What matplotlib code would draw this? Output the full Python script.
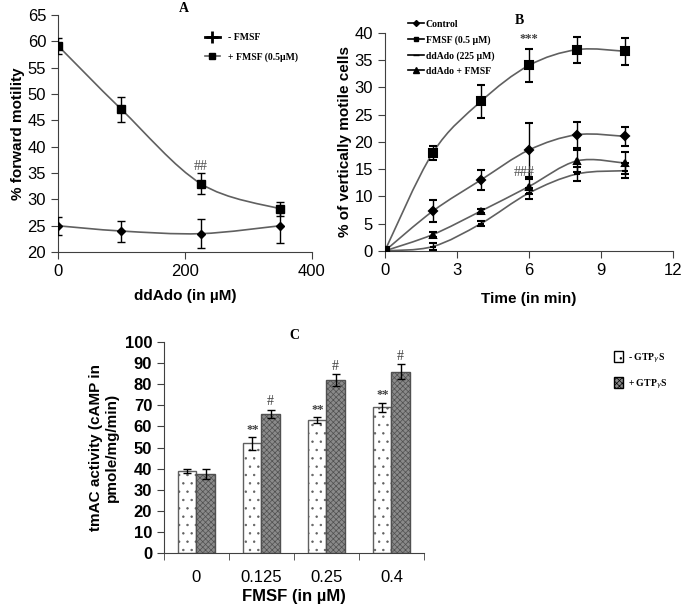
import numpy as np
import matplotlib
matplotlib.use("Agg")
import matplotlib.pyplot as plt
from matplotlib.path import Path
from matplotlib.patches import PathPatch, Patch
from matplotlib.lines import Line2D

# ---- data: panel A ----
dd_conc = [0, 100, 225, 350]
minus_fmsf = [25.0, 24.0, 23.5, 25.0]
minus_fmsf_err = [1.7, 2.0, 2.8, 3.3]
plus_fmsf = [59.2, 47.1, 33.0, 28.2]
plus_fmsf_err = [1.5, 2.4, 2.0, 1.3]

# ---- data: panel B ----
time_min = [0, 2, 4, 6, 8, 10]
control = [0.0, 7.3, 13.0, 18.5, 21.3, 21.0]
control_err = [0.0, 2.0, 1.8, 5.0, 2.4, 1.8]
fmsf_b = [0.0, 18.0, 27.4, 34.0, 36.9, 36.6]
fmsf_b_err = [0.0, 1.3, 3.0, 3.1, 2.4, 2.5]
ddado = [0.0, 0.8, 5.0, 10.6, 14.1, 14.7]
ddado_err = [0.0, 0.6, 0.5, 1.0, 1.2, 1.4]
ddado_fmsf = [0.0, 3.0, 7.3, 11.8, 16.5, 16.1]
ddado_fmsf_err = [0.0, 0.4, 0.4, 1.4, 2.0, 2.0]

# ---- data: panel C ----
fmsf_levels = ["0", "0.125", "0.25", "0.4"]
minus_gtp = [39.0, 52.0, 63.0, 69.0]
minus_gtp_err = [1.0, 3.0, 1.3, 2.3]
plus_gtp = [37.5, 66.0, 82.0, 86.0]
plus_gtp_err = [2.2, 2.0, 3.0, 3.5]
minus_marks = ["", "**", "**", "**"]
plus_marks = ["", "#", "#", "#"]

plt.rcParams['font.family'] = ['Liberation Sans', 'DejaVu Sans']
plt.rcParams['hatch.linewidth'] = 0.5
serif = ['Liberation Serif', 'DejaVu Serif']
narrow = ['Liberation Sans Narrow', 'Liberation Sans', 'DejaVu Sans']
line_col = '#606060'


def smooth(ax, x, y, color):
    # Excel-like smoothed line through the points (cubic bezier segments)
    x = np.asarray(x, float)
    y = np.asarray(y, float)
    px = np.concatenate([[x[0]], x, [x[-1]]])
    py = np.concatenate([[y[0]], y, [y[-1]]])
    verts = [(x[0], y[0])]
    codes = [Path.MOVETO]
    for i in range(1, len(px) - 2):
        c1 = (px[i] + (px[i + 1] - px[i - 1]) / 6, py[i] + (py[i + 1] - py[i - 1]) / 6)
        c2 = (px[i + 1] - (px[i + 2] - px[i]) / 6, py[i + 1] - (py[i + 2] - py[i]) / 6)
        verts += [c1, c2, (px[i + 1], py[i + 1])]
        codes += [Path.CURVE4] * 3
    ax.add_patch(PathPatch(Path(verts, codes), fill=False, edgecolor=color, lw=1.2, zorder=2))


def style_axes(ax):
    for s in ['top', 'right']:
        ax.spines[s].set_visible(False)
    for s in ['left', 'bottom']:
        ax.spines[s].set_color('#404040')
    ax.tick_params(direction='out', length=5, color='#404040')


fig = plt.figure(figsize=(6.86, 6.06), dpi=100)

# ---------------- panel A ----------------
axA = fig.add_axes([0.0845, 0.584, 0.370, 0.391])
smooth(axA, dd_conc, minus_fmsf, line_col)
smooth(axA, dd_conc, plus_fmsf, line_col)
axA.errorbar(dd_conc, minus_fmsf, yerr=minus_fmsf_err, fmt='D', ms=4, color='black',
             ecolor='black', elinewidth=1, capsize=3, zorder=3)
axA.errorbar(dd_conc, plus_fmsf, yerr=plus_fmsf_err, fmt='s', ms=6, color='black',
             ecolor='black', elinewidth=1, capsize=3, zorder=3)
axA.set_xlim(0, 400)
axA.set_ylim(20, 65)
axA.set_xticks([0, 200, 400])
axA.set_yticks(range(20, 66, 5))
axA.tick_params(labelsize=12)
style_axes(axA)
axA.set_xlabel('ddAdo (in µM)', fontsize=11, fontweight='bold', labelpad=7)
axA.set_ylabel('% forward motility', fontsize=11, fontweight='bold', labelpad=2)
axA.text(225, 35.5, '##', ha='center', fontsize=10, color='#505050', family=serif)
axA.text(198, 66.2, 'A', ha='center', va='center', fontsize=10, fontweight='bold', family=serif,
         clip_on=False)
hA = [Line2D([], [], color='black', marker='+', ms=8, mew=2, lw=2),
      Line2D([], [], color=line_col, marker='s', ms=5, mfc='black', mec='black', lw=1.2)]
axA.legend(hA, ['- FMSF', '+ FMSF (0.5µM)'], loc='upper right', bbox_to_anchor=(0.98, 0.96),
           frameon=False, handlelength=1.6, labelspacing=1.0,
           prop={'family': serif, 'weight': 'bold', 'size': 7})

# ---------------- panel B ----------------
axB = fig.add_axes([0.561, 0.586, 0.420, 0.360])
series_b = [(control, control_err, 'D', 4), (fmsf_b, fmsf_b_err, 's', 6),
            (ddado, ddado_err, '_', 5), (ddado_fmsf, ddado_fmsf_err, '^', 5)]
for vals, errs, mk, ms in series_b:
    smooth(axB, time_min, vals, line_col)
    axB.errorbar(time_min, vals, yerr=errs, fmt=mk, ms=ms, mew=1.5, color='black',
                 ecolor='black', elinewidth=1, capsize=3, zorder=3)
axB.set_xlim(0, 12)
axB.set_ylim(0, 40)
axB.set_xticks(range(0, 13, 3))
axB.set_yticks(range(0, 41, 5))
axB.tick_params(labelsize=12)
style_axes(axB)
axB.set_xlabel('Time (in min)', fontsize=11, fontweight='bold', labelpad=10)
axB.set_ylabel('% of vertically motile cells', fontsize=11, fontweight='bold', labelpad=2)
axB.text(6, 38.3, '***', ha='center', fontsize=9, fontweight='bold', color='#404040', family=serif)
axB.text(5.8, 13.7, '###', ha='center', fontsize=10, color='#505050', family=serif)
axB.text(5.6, 42.2, 'B', ha='center', va='center', fontsize=10, fontweight='bold', family=serif,
         clip_on=False)
hB = [Line2D([], [], color='black', marker='D', ms=3, lw=1.2),
      Line2D([], [], color='black', marker='s', ms=3, lw=1.2),
      Line2D([], [], color='black', marker='_', ms=4, lw=1.2),
      Line2D([], [], color='black', marker='^', ms=4, lw=1.2)]
axB.legend(hB, ['Control', 'FMSF (0.5 µM)', 'ddAdo (225 µM)', 'ddAdo + FMSF'],
           loc='upper left', bbox_to_anchor=(0.05, 1.1), frameon=False, handlelength=1.6,
           handletextpad=0.2, labelspacing=0.65,
           prop={'family': serif, 'weight': 'bold', 'size': 7})

# ---------------- panel C ----------------
axC = fig.add_axes([0.239, 0.0875, 0.379, 0.348])
xc = np.arange(len(fmsf_levels))
w = 0.28
axC.bar(xc - w / 2, minus_gtp, w, yerr=minus_gtp_err, color='white', edgecolor='#606060',
        hatch='..', lw=1, capsize=3, error_kw={'elinewidth': 1, 'ecolor': 'black'})
axC.bar(xc + w / 2, plus_gtp, w, yerr=plus_gtp_err, color='#8a8a8a', edgecolor='#505050',
        hatch='xxxxxx', lw=1, capsize=3, error_kw={'elinewidth': 1, 'ecolor': 'black'})
for i in range(len(fmsf_levels)):
    if minus_marks[i]:
        axC.text(xc[i] - w / 2, minus_gtp[i] + minus_gtp_err[i] + 2, minus_marks[i], ha='center',
                 fontsize=9, fontweight='bold', color='#404040', family=serif)
    if plus_marks[i]:
        axC.text(xc[i] + w / 2, plus_gtp[i] + plus_gtp_err[i] + 2, plus_marks[i], ha='center',
                 fontsize=10, color='#404040', family=serif)
axC.set_xlim(-0.5, 3.5)
axC.set_ylim(0, 100)
axC.set_yticks(range(0, 101, 10))
axC.set_xticks(xc)
axC.set_xticklabels(fmsf_levels, family=narrow)
axC.set_xticks(np.arange(-0.5, 3.6, 1), minor=True)
style_axes(axC)
axC.tick_params(axis='x', which='major', length=0, labelsize=12, pad=12)
axC.tick_params(axis='x', which='minor', length=5, direction='out', color='#404040')
axC.tick_params(axis='y', labelsize=12)
for lab in axC.get_yticklabels():
    lab.set_fontweight('bold')
    lab.set_family(narrow)
axC.set_xlabel('FMSF (in µM)', fontsize=12, fontweight='bold', labelpad=3, family=narrow)
axC.set_ylabel('tmAC activity (cAMP in\npmole/mg/min)', fontsize=11, fontweight='bold',
               labelpad=4)
axC.text(1.5, 103, 'C', ha='center', va='center', fontsize=10, fontweight='bold', family=serif,
         clip_on=False)
hC = [Patch(facecolor='white', edgecolor='black', hatch='..'),
      Patch(facecolor='#8a8a8a', edgecolor='black', hatch='xxxxxx')]
fig.legend(hC, ['- GTP$_\\gamma$S', '+ GTP$_\\gamma$S'], loc='upper left',
           bbox_to_anchor=(0.883, 0.435), frameon=False, handlelength=0.9, handleheight=1.3,
           handletextpad=0.5, labelspacing=1.3,
           prop={'family': serif, 'weight': 'bold', 'size': 7})

fig.savefig('out.png', dpi=100)
